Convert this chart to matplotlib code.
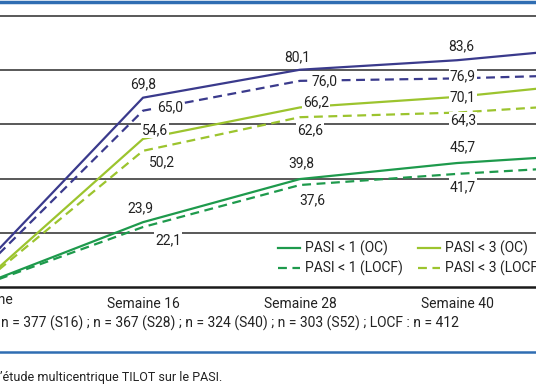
import matplotlib
matplotlib.use("Agg")
import matplotlib.pyplot as plt
from matplotlib.lines import Line2D
import matplotlib.transforms as mtransforms

plt.rcParams['font.family'] = ['Roboto', 'DejaVu Sans']

# semaines 4, 16, 28, 40, 52 (positions de catégorie)
semaines = ["Semaine", "Semaine 16", "Semaine 28", "Semaine 40", "Semaine 52"]
x = [0, 1, 2, 3, 4]

bleu_oc = [9.0, 69.8, 80.1, 83.6, 89.0]
bleu_locf = [7.5, 65.0, 76.0, 76.9, 78.5]
pasi3_oc = [3.0, 54.6, 66.2, 70.1, 76.0]
pasi3_locf = [2.5, 50.2, 62.6, 64.3, 68.0]
pasi1_oc = [1.5, 23.9, 39.8, 45.7, 49.4]
pasi1_locf = [1.2, 22.1, 37.6, 41.7, 45.0]

bleu = '#3a3a8c'
vert_clair = '#9cc42e'
vert = '#1e9a4c'
filet = '#2f6db2'

fig = plt.figure(figsize=(5.36, 3.86), dpi=100)
ax = fig.add_axes([0, 99/386, 1, 282/386])

for v in [20, 40, 60, 80, 100]:
    ax.axhline(v, color='#2b2b2b', lw=1.1, zorder=1)

dash = (0, (4, 2.5))
ax.plot(x, bleu_oc, color=bleu, lw=1.6, zorder=3)
ax.plot(x, bleu_locf, color=bleu, lw=1.6, ls=dash, zorder=3)
ax.plot(x, pasi3_oc, color=vert_clair, lw=1.6, zorder=3)
ax.plot(x, pasi3_locf, color=vert_clair, lw=1.6, ls=dash, zorder=3)
ax.plot(x, pasi1_oc, color=vert, lw=1.6, zorder=3)
ax.plot(x, pasi1_locf, color=vert, lw=1.6, ls=dash, zorder=3)

# décalages des étiquettes (pixels) pour S16, S28, S40
decalages = {
    'bleu_oc': [(0, 13), (-3, 12), (4, 14)],
    'bleu_locf': [(27, 3), (25, 0), (6, 2)],
    'pasi3_oc': [(12, 9), (16, 5), (6, 0)],
    'pasi3_locf': [(19, -11), (10, -13), (6, -8)],
    'pasi1_oc': [(-3, 14), (1, 16), (6, 16)],
    'pasi1_locf': [(25, -13), (12, -15), (6, -13)],
}
series = {'bleu_oc': bleu_oc, 'bleu_locf': bleu_locf, 'pasi3_oc': pasi3_oc,
          'pasi3_locf': pasi3_locf, 'pasi1_oc': pasi1_oc, 'pasi1_locf': pasi1_locf}
for nom, vals in series.items():
    for i, (dx, dy) in zip([1, 2, 3], decalages[nom]):
        ax.annotate(f"{vals[i]:.1f}".replace('.', ','), (x[i], vals[i]),
                    xytext=(dx, dy), textcoords='offset pixels',
                    ha='center', va='center', fontsize=10, color='#222222',
                    bbox=dict(boxstyle='square,pad=0.1', fc='white', ec='none'),
                    zorder=4)

ax.set_xticks(x)
ax.set_xticklabels(semaines, fontsize=10, color='#222222')
ax.tick_params(axis='x', length=0, pad=7)
ax.set_yticks([])
# 157 px par catégorie, Semaine 16 à x = 143 px
ax.set_xlim(1 - 143/157, 1 + (536-143)/157)
ax.set_ylim(0, 282/2.7125)
for s in ['top', 'left', 'right']:
    ax.spines[s].set_visible(False)
ax.spines['bottom'].set_linewidth(1.8)
ax.spines['bottom'].set_color('#1a1a1a')

# la première catégorie est hors du cadre : son étiquette est posée à la main
trans = mtransforms.blended_transform_factory(ax.transData, ax.transAxes)
ax.text(x[0], -13/282, semaines[0], transform=trans, ha='center', va='center',
        fontsize=10, color='#222222', clip_on=False)

poignees = [
    Line2D([], [], color=vert, lw=1.6),
    Line2D([], [], color=vert, lw=1.6, ls=dash),
    Line2D([], [], color=vert_clair, lw=1.6),
    Line2D([], [], color=vert_clair, lw=1.6, ls=dash),
]
etiquettes = ["PASI < 1 (OC)", "PASI < 1 (LOCF)", "PASI < 3 (OC)", "PASI < 3 (LOCF)"]
leg = ax.legend(poignees, etiquettes, ncol=2, loc='upper left',
                bbox_to_anchor=(275/536, (287-238)/282), frameon=True,
                fontsize=10, handlelength=1.6, handletextpad=0.35,
                columnspacing=1.1, labelspacing=0.35, borderpad=0.2,
                borderaxespad=0)
leg.get_frame().set_facecolor('white')
leg.get_frame().set_edgecolor('none')
leg.get_frame().set_alpha(1)
for t in leg.get_texts():
    t.set_color('#222222')

fig.text(0.002, 1 - 323/386, "n = 377 (S16) ; n = 367 (S28) ; n = 324 (S40) ; n = 303 (S52) ; LOCF : n = 412",
         fontsize=10, color='#222222', ha='left', va='center')

fig.add_artist(Line2D([0, 1], [1 - 352/386] * 2, color=filet, lw=1.8))
fig.add_artist(Line2D([0, 1], [1 - 1.5/386] * 2, color=filet, lw=2.5))

fig.text(0.0, 1 - 378/386, "’étude multicentrique TILOT sur le PASI.",
         fontsize=9, color='#222222', ha='left', va='center')

fig.savefig('out.png', dpi=100)
